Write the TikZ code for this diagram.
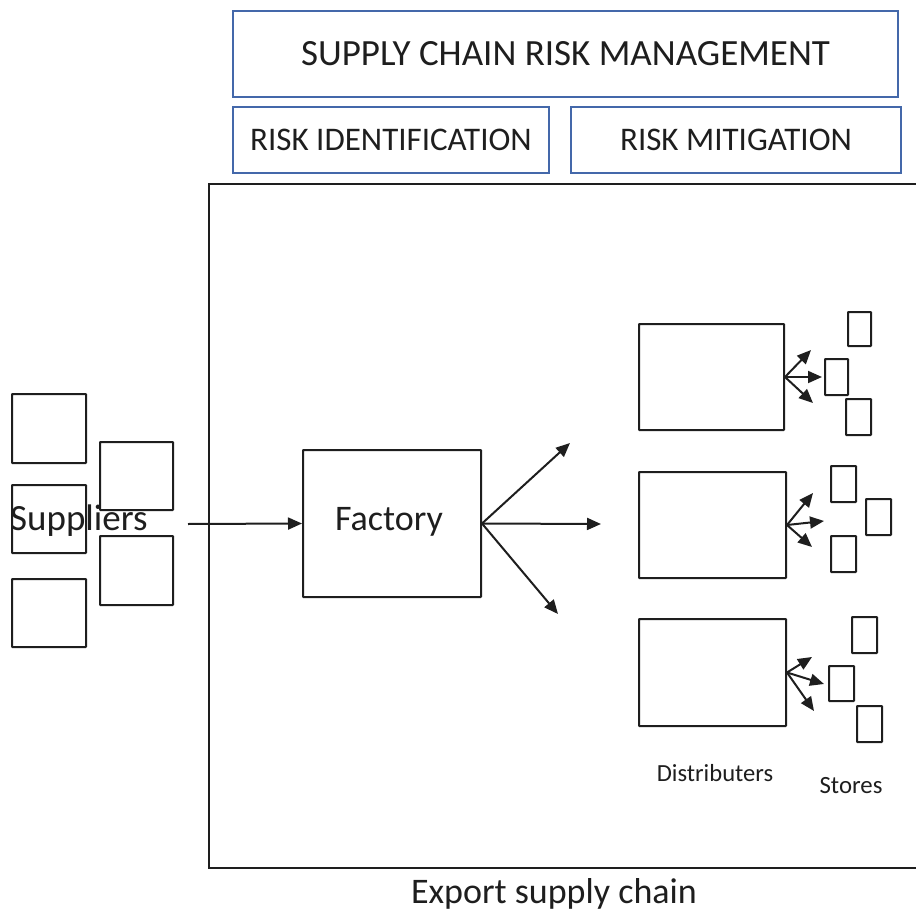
\documentclass[tikz,border=0pt]{standalone}
\usepackage{fontspec}
\setmainfont{Carlito}
\usetikzlibrary{arrows.meta,fit}
\definecolor{frameblue}{RGB}{68,104,170}
\definecolor{ink}{RGB}{30,30,30}
\begin{document}
\begin{tikzpicture}[x=1pt,y=-1pt,
  box/.style={draw=ink,line width=2pt,inner sep=0pt,rounded corners=0.6pt},
  bluebox/.style={draw=frameblue,line width=1.4pt,inner sep=0pt},
  arr/.style={draw=ink,line width=2pt,-{Triangle[length=14pt,width=12pt]}},
  lbl/.style={inner sep=0pt,text=ink}]
\useasboundingbox (0,0) rectangle (916,915);

% risk management header
\node[bluebox,fit={(233,11) (898,97)}] (scrm) {};
\node[lbl,font=\fontsize{37}{37}\selectfont] at (scrm.center) {SUPPLY CHAIN RISK MANAGEMENT};
\node[bluebox,fit={(233,107) (549,173)}] (rid) {};
\node[lbl,font=\fontsize{33}{33}\selectfont] at (rid.center) {RISK IDENTIFICATION};
\node[bluebox,fit={(571,107) (901,173)}] (rmit) {};
\node[lbl,font=\fontsize{33}{33}\selectfont] at (rmit.center) {RISK MITIGATION};

% export supply chain frame (open to the right)
\draw[ink,line width=2pt] (918,184) -- (209,184) -- (209,868) -- (918,868);
\node[lbl,font=\fontsize{36}{36}\selectfont] (export) at (554,894) {Export supply chain};

% suppliers
\node[box,fit={(12,394) (86,463)}] (s1) {};
\node[box,fit={(12,485) (86,553)}] (s2) {};
\node[box,fit={(12,579) (86,647)}] (s3) {};
\node[box,fit={(100,442) (173,510)}] (s4) {};
\node[box,fit={(100,536) (173,605)}] (s5) {};
\node[lbl,font=\fontsize{37}{37}\selectfont,anchor=base west] (sup) at (10,530) {Suppliers};
\coordinate (supout) at (188,524);

% factory
\node[box,fit={(303,450) (481,597)}] (factory) {};
\node[lbl,font=\fontsize{36}{36}\selectfont] at (389,522) {Factory};
\draw[arr] (supout) -- (factory.west);

\coordinate (f1) at (570,443);
\coordinate (f2) at (601,524);
\coordinate (f3) at (558,614);
\foreach \t in {f1,f2,f3} \draw[arr] (factory.east) -- (\t);

% distributors
\node[box,fit={(639,324) (784,430)}] (d1) {};
\node[box,fit={(639,472) (786,578)}] (d2) {};
\node[box,fit={(639,619) (786,726)}] (d3) {};

% stores
\node[box,fit={(848,312) (871,346)}] (a1) {};
\node[box,fit={(825,359) (848,395)}] (a2) {};
\node[box,fit={(846,399) (871,435)}] (a3) {};
\node[box,fit={(831,466) (856,502)}] (b1) {};
\node[box,fit={(866,499) (891,535)}] (b2) {};
\node[box,fit={(831,536) (856,572)}] (b3) {};
\node[box,fit={(852,617) (877,653)}] (c1) {};
\node[box,fit={(829,666) (854,701)}] (c2) {};
\node[box,fit={(857,706) (882,742)}] (c3) {};

% distributor to store fans
\coordinate (a1t) at (811,350); \coordinate (a2t) at (822,377); \coordinate (a3t) at (813,403);
\coordinate (b1t) at (813,493); \coordinate (b2t) at (824,521); \coordinate (b3t) at (812,547);
\coordinate (c1t) at (812,657); \coordinate (c2t) at (824,684); \coordinate (c3t) at (814,711);
\foreach \t in {a1t,a2t,a3t} \draw[arr] (d1.east) -- (\t);
\foreach \t in {b1t,b2t,b3t} \draw[arr] (d2.east) -- (\t);
\foreach \t in {c1t,c2t,c3t} \draw[arr] (d3.east) -- (\t);

\node[lbl,font=\fontsize{24.6}{24.6}\selectfont] (dist) at (715,773) {Distributers};
\node[lbl,font=\fontsize{24.8}{24.8}\selectfont] (stores) at (851,786) {Stores};
\end{tikzpicture}
\end{document}
